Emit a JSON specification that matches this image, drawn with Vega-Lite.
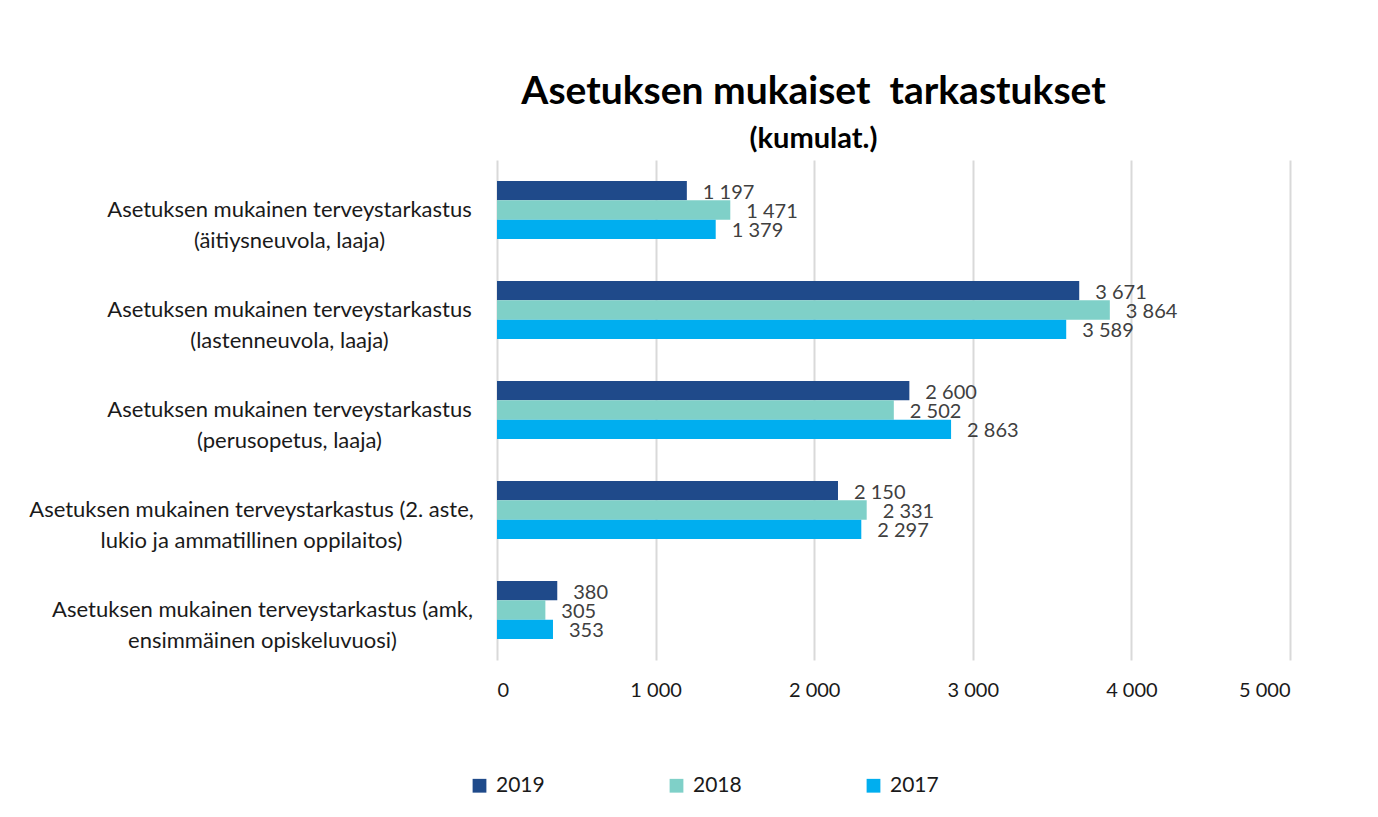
{
  "$schema": "https://vega.github.io/schema/vega-lite/v6.json",
  "width": 793,
  "height": 500,
  "autosize": {"type": "none"},
  "padding": {"left": 497, "top": 160, "right": 88, "bottom": 157},
  "background": "white",
  "title": {
    "text": "Asetuksen mukaiset\u00a0 tarkastukset",
    "subtitle": "(kumulat.)",
    "anchor": "middle",
    "dx": -80,
    "offset": 6,
    "font": "Lato",
    "fontSize": 39,
    "fontWeight": "bold",
    "color": "black",
    "subtitleFont": "Lato",
    "subtitleFontSize": 29,
    "subtitleFontWeight": "bold",
    "subtitleColor": "black",
    "subtitlePadding": 13
  },
  "data": {
    "values": [
      {"kategoria": "Asetuksen mukainen terveystarkastus (äitiysneuvola, laaja)", "vuosi": "2019", "arvo": 1197},
      {"kategoria": "Asetuksen mukainen terveystarkastus (äitiysneuvola, laaja)", "vuosi": "2018", "arvo": 1471},
      {"kategoria": "Asetuksen mukainen terveystarkastus (äitiysneuvola, laaja)", "vuosi": "2017", "arvo": 1379},
      {"kategoria": "Asetuksen mukainen terveystarkastus (lastenneuvola, laaja)", "vuosi": "2019", "arvo": 3671},
      {"kategoria": "Asetuksen mukainen terveystarkastus (lastenneuvola, laaja)", "vuosi": "2018", "arvo": 3864},
      {"kategoria": "Asetuksen mukainen terveystarkastus (lastenneuvola, laaja)", "vuosi": "2017", "arvo": 3589},
      {"kategoria": "Asetuksen mukainen terveystarkastus (perusopetus, laaja)", "vuosi": "2019", "arvo": 2600},
      {"kategoria": "Asetuksen mukainen terveystarkastus (perusopetus, laaja)", "vuosi": "2018", "arvo": 2502},
      {"kategoria": "Asetuksen mukainen terveystarkastus (perusopetus, laaja)", "vuosi": "2017", "arvo": 2863},
      {"kategoria": "Asetuksen mukainen terveystarkastus (2. aste, lukio ja ammatillinen oppilaitos)", "vuosi": "2019", "arvo": 2150},
      {"kategoria": "Asetuksen mukainen terveystarkastus (2. aste, lukio ja ammatillinen oppilaitos)", "vuosi": "2018", "arvo": 2331},
      {"kategoria": "Asetuksen mukainen terveystarkastus (2. aste, lukio ja ammatillinen oppilaitos)", "vuosi": "2017", "arvo": 2297},
      {"kategoria": "Asetuksen mukainen terveystarkastus (amk, ensimmäinen opiskeluvuosi)", "vuosi": "2019", "arvo": 380},
      {"kategoria": "Asetuksen mukainen terveystarkastus (amk, ensimmäinen opiskeluvuosi)", "vuosi": "2018", "arvo": 305},
      {"kategoria": "Asetuksen mukainen terveystarkastus (amk, ensimmäinen opiskeluvuosi)", "vuosi": "2017", "arvo": 353}
    ]
  },
  "encoding": {
    "y": {
      "field": "kategoria",
      "type": "nominal",
      "sort": null,
      "title": null,
      "scale": {"paddingInner": 0.42, "paddingOuter": 0.21},
      "axis": {
        "domain": false,
        "ticks": false,
        "grid": false,
        "labelFont": "Lato",
        "labelFontSize": 22,
        "labelColor": "#1a1a1a",
        "labelAlign": "center",
        "labelBaseline": "middle",
        "labelLineHeight": 31,
        "labelLimit": 0,
        "labelPadding": {
          "condition": [
            {"test": "indexof(datum.value, '(2.') >= 0", "value": 246},
            {"test": "indexof(datum.value, '(amk') >= 0", "value": 235}
          ],
          "value": 208
        },
        "labelExpr": "test(/\\(2\\.|\\(amk/, datum.label) ? [slice(datum.label, 0, indexof(datum.label, ',') + 1), slice(datum.label, indexof(datum.label, ',') + 2)] : [slice(datum.label, 0, indexof(datum.label, ' (')), slice(datum.label, indexof(datum.label, ' (') + 1)]"
      }
    },
    "yOffset": {
      "field": "vuosi",
      "type": "nominal",
      "scale": {"domain": ["2019", "2018", "2017"], "paddingInner": 0, "paddingOuter": 0}
    },
    "x": {
      "field": "arvo",
      "type": "quantitative",
      "title": null,
      "scale": {"domain": [0, 5000], "nice": false},
      "axis": {
        "values": [0, 1000, 2000, 3000, 4000, 5000],
        "format": ",d",
        "domain": false,
        "ticks": false,
        "grid": true,
        "gridColor": "#d9d9d9",
        "gridWidth": 2,
        "labelFont": "Lato",
        "labelFontSize": 20,
        "labelColor": "#1a1a1a",
        "labelPadding": 20
      }
    }
  },
  "layer": [
    {
      "mark": {"type": "bar"},
      "encoding": {
        "color": {
          "field": "vuosi",
          "type": "nominal",
          "title": null,
          "scale": {"domain": ["2019", "2018", "2017"], "range": ["#1F4A8A", "#7FD0C8", "#00AEEF"]},
          "legend": {
            "orient": "none",
            "direction": "horizontal",
            "legendX": -28,
            "legendY": 615,
            "symbolType": "square",
            "symbolSize": 190,
            "symbolStrokeWidth": 0,
            "labelFont": "Lato",
            "labelFontSize": 21,
            "labelColor": "#1a1a1a",
            "labelOffset": 6,
            "columnPadding": 121
          }
        }
      }
    },
    {
      "mark": {"type": "text", "align": "left", "baseline": "middle", "dx": 16, "dy": 2, "font": "Lato", "fontSize": 20, "color": "#404040"},
      "encoding": {
        "text": {"field": "arvo", "type": "quantitative", "format": ",d"}
      }
    }
  ],
  "config": {
    "locale": {"number": {"decimal": ",", "thousands": " ", "grouping": [3], "currency": ["", " €"]}},
    "view": {"stroke": null}
  }
}
